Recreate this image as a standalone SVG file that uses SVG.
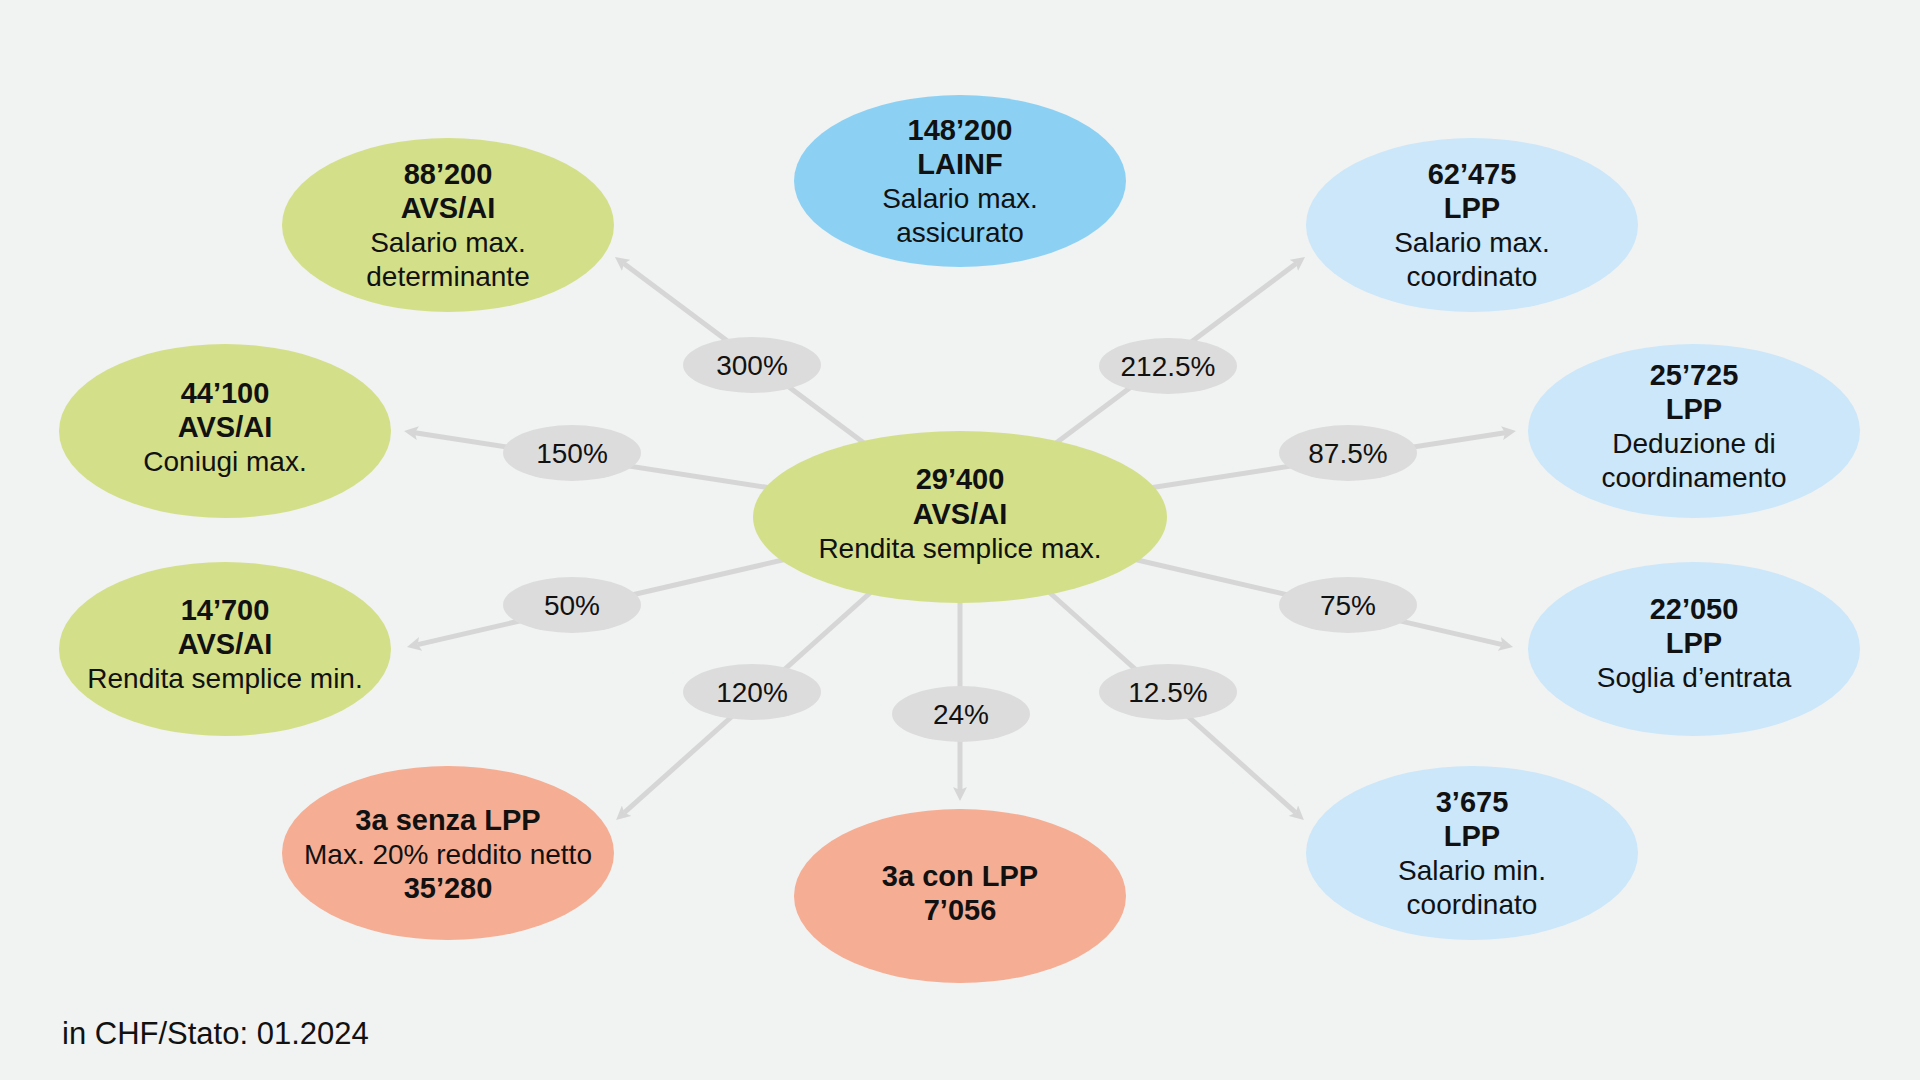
<svg xmlns="http://www.w3.org/2000/svg" width="1920" height="1080" viewBox="0 0 1920 1080">
<defs>
<style>
.bg{fill:#f1f2f2}
.green{fill:#d4df8a}
.blue{fill:#8cd1f3}
.lblue{fill:#cbe7f9}
.salmon{fill:#f5ad93}
.tag{fill:#dcdcdc}
.conn{stroke:#d6d6d6;stroke-width:5;fill:none;marker-end:url(#arr)}
text{font-family:"Liberation Sans",Arial,sans-serif;font-size:28px;fill:#111;text-anchor:middle}
.b{font-weight:bold;font-size:29px}
.note{text-anchor:start;font-size:31px}
</style>
<marker id="arr" markerUnits="userSpaceOnUse" viewBox="0 0 14 14" markerWidth="14" markerHeight="14" refX="3" refY="7" orient="auto">
<path d="M0,0 L14,7 L0,14 L3,7 z" fill="#d6d6d6"/>
</marker>
</defs>
<rect class="bg" x="0" y="0" width="1920" height="1080"/>

<g id="connectors">
<line class="conn" x1="880" y1="455" x2="623.8" y2="263.6"/>
<line class="conn" x1="1040" y1="455" x2="1296.2" y2="263.6"/>
<line class="conn" x1="790" y1="491" x2="414.9" y2="432.7"/>
<line class="conn" x1="1130" y1="491" x2="1505.1" y2="432.7"/>
<line class="conn" x1="800" y1="556" x2="417.7" y2="644.6"/>
<line class="conn" x1="1120" y1="556" x2="1502.3" y2="644.6"/>
<line class="conn" x1="880" y1="584" x2="624.3" y2="812.7"/>
<line class="conn" x1="1040" y1="584" x2="1295.7" y2="812.7"/>
<line class="conn" x1="960" y1="590" x2="960" y2="790"/>
</g>

<g id="labels">
<g id="l300"><ellipse class="tag" cx="752" cy="365" rx="69" ry="28"/><text x="752" y="375">300%</text></g>
<g id="l212"><ellipse class="tag" cx="1168" cy="366" rx="69" ry="28"/><text x="1168" y="376">212.5%</text></g>
<g id="l150"><ellipse class="tag" cx="572" cy="453" rx="69" ry="28"/><text x="572" y="463">150%</text></g>
<g id="l87"><ellipse class="tag" cx="1348" cy="453" rx="69" ry="28"/><text x="1348" y="463">87.5%</text></g>
<g id="l50"><ellipse class="tag" cx="572" cy="605" rx="69" ry="28"/><text x="572" y="615">50%</text></g>
<g id="l75"><ellipse class="tag" cx="1348" cy="605" rx="69" ry="28"/><text x="1348" y="615">75%</text></g>
<g id="l120"><ellipse class="tag" cx="752" cy="692" rx="69" ry="28"/><text x="752" y="702">120%</text></g>
<g id="l12"><ellipse class="tag" cx="1168" cy="692" rx="69" ry="28"/><text x="1168" y="702">12.5%</text></g>
<g id="l24"><ellipse class="tag" cx="961" cy="714" rx="69" ry="28"/><text x="961" y="724">24%</text></g>
</g>

<g id="center">
<ellipse class="green" cx="960" cy="517" rx="207" ry="86"/>
<text class="b" x="960" y="489">29’400</text>
<text class="b" x="960" y="524">AVS/AI</text>
<text x="960" y="558">Rendita semplice max.</text>
</g>

<g id="lainf">
<ellipse class="blue" cx="960" cy="181" rx="166" ry="86"/>
<text class="b" x="960" y="140">148’200</text>
<text class="b" x="960" y="174">LAINF</text>
<text x="960" y="208">Salario max.</text>
<text x="960" y="242">assicurato</text>
</g>

<g id="avs88">
<ellipse class="green" cx="448" cy="225" rx="166" ry="87"/>
<text class="b" x="448" y="184">88’200</text>
<text class="b" x="448" y="218">AVS/AI</text>
<text x="448" y="252">Salario max.</text>
<text x="448" y="286">determinante</text>
</g>

<g id="lpp62">
<ellipse class="lblue" cx="1472" cy="225" rx="166" ry="87"/>
<text class="b" x="1472" y="184">62’475</text>
<text class="b" x="1472" y="218">LPP</text>
<text x="1472" y="252">Salario max.</text>
<text x="1472" y="286">coordinato</text>
</g>

<g id="avs44">
<ellipse class="green" cx="225" cy="431" rx="166" ry="87"/>
<text class="b" x="225" y="403">44’100</text>
<text class="b" x="225" y="437">AVS/AI</text>
<text x="225" y="471">Coniugi max.</text>
</g>

<g id="lpp25">
<ellipse class="lblue" cx="1694" cy="431" rx="166" ry="87"/>
<text class="b" x="1694" y="385">25’725</text>
<text class="b" x="1694" y="419">LPP</text>
<text x="1694" y="453">Deduzione di</text>
<text x="1694" y="487">coordinamento</text>
</g>

<g id="avs14">
<ellipse class="green" cx="225" cy="649" rx="166" ry="87"/>
<text class="b" x="225" y="620">14’700</text>
<text class="b" x="225" y="654">AVS/AI</text>
<text x="225" y="688">Rendita semplice min.</text>
</g>

<g id="lpp22">
<ellipse class="lblue" cx="1694" cy="649" rx="166" ry="87"/>
<text class="b" x="1694" y="619">22’050</text>
<text class="b" x="1694" y="653">LPP</text>
<text x="1694" y="687">Soglia d’entrata</text>
</g>

<g id="senza">
<ellipse class="salmon" cx="448" cy="853" rx="166" ry="87"/>
<text class="b" x="448" y="830">3a senza LPP</text>
<text x="448" y="864">Max. 20% reddito netto</text>
<text class="b" x="448" y="898">35’280</text>
</g>

<g id="con">
<ellipse class="salmon" cx="960" cy="896" rx="166" ry="87"/>
<text class="b" x="960" y="886">3a con LPP</text>
<text class="b" x="960" y="920">7’056</text>
</g>

<g id="lpp3">
<ellipse class="lblue" cx="1472" cy="853" rx="166" ry="87"/>
<text class="b" x="1472" y="812">3’675</text>
<text class="b" x="1472" y="846">LPP</text>
<text x="1472" y="880">Salario min.</text>
<text x="1472" y="914">coordinato</text>
</g>

<text class="note" x="62" y="1044">in CHF/Stato: 01.2024</text>
</svg>
